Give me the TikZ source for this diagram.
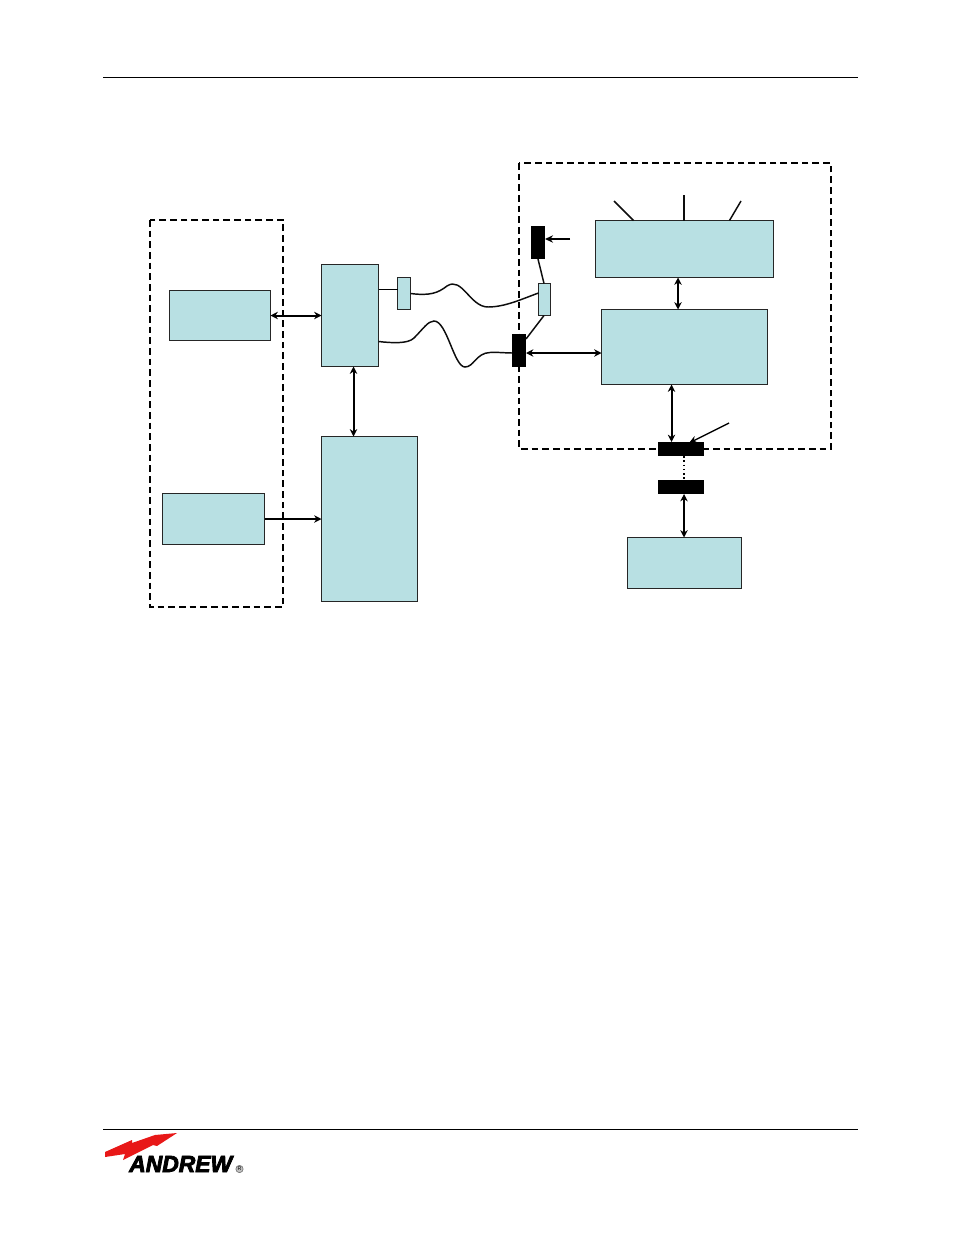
\documentclass[tikz,border=0pt]{standalone}
\usepackage{fontspec}
\setmainfont{Liberation Sans}
\newfontfamily\logofont{Liberation Sans}[UprightFont=* Bold Italic,UprightFeatures={FakeBold=3.5}]
\usetikzlibrary{arrows.meta}
\definecolor{boxblue}{HTML}{B8E0E3}
\definecolor{bolt}{HTML}{E81818}
\tikzset{
  x=0.75pt,y=-0.75pt,
  bluebox/.style={draw=black!85,line width=0.65pt,fill=boxblue,inner sep=0,outer sep=0,anchor=north west},
  blackbox/.style={draw=none,fill=black,inner sep=0,outer sep=0,anchor=north west},
  dashbox/.style={draw=black,line width=1pt,dash pattern=on 5pt off 3pt},
  rule/.style={line width=0.8pt},
  wire/.style={line width=1.1pt,black!95},
  link/.style={line width=1.5pt,{Stealth[length=5.5pt,width=5.5pt]}-{Stealth[length=5.5pt,width=5.5pt]}},
  oneway/.style={line width=1.4pt,-{Stealth[length=5.5pt,width=5.5pt]}},
  thinarrow/.style={line width=1pt,-{Stealth[length=6pt,width=5.5pt]}},
}
\newcommand{\bx}[7]{\node[#2,minimum width=#3*0.75pt,minimum height=#4*0.75pt] (#1) at (#5,#6) {#7};}
\begin{document}
\begin{tikzpicture}
\useasboundingbox (0,0) rectangle (954,1235);
\fill[white] (0,0) rectangle (954,1235);
% page rules
\coordinate (rt1) at (103,77.5); \coordinate (rt2) at (858,77.5);
\coordinate (rb1) at (103,1129.5); \coordinate (rb2) at (858,1129.5);
\draw[rule] (rt1) -- (rt2);
\draw[rule] (rb1) -- (rb2);
% dashed frames
\draw[dashbox] (150,220) rectangle (283,607);
\draw[dashbox] (519,163) rectangle (831,449);
% blue boxes
\bx{pc}{bluebox}{101}{50}{169.5}{290.5}{}
\bx{modem}{bluebox}{102}{51}{162.5}{493.5}{}
\bx{splitter}{bluebox}{57}{102}{321.5}{264.5}{}
\bx{unit}{bluebox}{96}{165}{321.5}{436.5}{}
\bx{smallL}{bluebox}{13}{32}{397.5}{277.5}{}
\bx{smallR}{bluebox}{12}{32}{538.5}{283.5}{}
\bx{top}{bluebox}{178}{57}{595.5}{220.5}{}
\bx{mid}{bluebox}{166}{75}{601.5}{309.5}{}
\bx{bottom}{bluebox}{114}{51}{627.5}{537.5}{}
% black connectors
\bx{conA}{blackbox}{14}{33}{531}{226}{}
\bx{conB}{blackbox}{14}{33}{512}{334}{}
\bx{conC}{blackbox}{46}{14}{658}{442}{}
\bx{conD}{blackbox}{46}{14}{658}{480}{}
% free ends
\coordinate (ant1) at (614,201);
\coordinate (ant2) at (684,195);
\coordinate (ant3) at (741,201);
\coordinate (tipA) at (570,239);
\coordinate (tipC) at (729,423);
% antennas
\draw[wire] (ant1) -- ([shift={(38,0)}]top.north west);
\draw[wire] (ant2) -- (ant2 |- top.north);
\draw[wire] (ant3) -- ([shift={(134,0)}]top.north west);
% arrows
\draw[link] (pc.east) -- (splitter.west);
\draw[oneway] (modem.east) -- (unit.west |- modem.east);
\draw[link] ([shift={(32,0)}]splitter.south west) -- ([shift={(32,0)}]unit.north west);
\draw[link] ([shift={(82.5,0)}]top.south west) -- ([shift={(76.5,0)}]mid.north west);
\draw[link] ([shift={(0,19)}]conB.north east) -- ([shift={(0,43.5)}]mid.north west);
\draw[link] ([shift={(70,0)}]mid.south west) -- ([shift={(13.5,0)}]conC.north west);
\draw[link] ([shift={(26,0)}]conD.south west) -- ([shift={(56.5,0)}]bottom.north west);
\draw[thinarrow,line width=1.3pt] (tipA) -- (tipA -| conA.east);
\draw[thinarrow] (tipC) -- ([shift={(31,1)}]conC.north west);
\draw[line width=1.2pt,dotted] ([shift={(26,0)}]conC.south west) -- ([shift={(26,0)}]conD.north west);
% wires
\draw[line width=1.4pt] ([shift={(0,25)}]splitter.north east) -- ([shift={(0,12)}]smallL.north west);
\draw[wire] ([shift={(0,16)}]smallL.north east) .. controls (430,296) and (438,293) .. (447,286)
  .. controls (462,276) and (470,307) .. (488,307)
  .. controls (505,307) and (522,299) .. ([shift={(0,9.5)}]smallR.north west);
\draw[wire] ([shift={(0,77)}]splitter.north east) .. controls (392,343) and (408,344) .. (414,338)
  .. controls (423,329) and (428,321) .. (434,321)
  .. controls (447,321) and (454,367) .. (465,367)
  .. controls (474,367) and (476,353) .. (490,352.5)
  .. controls (498,352) and (505,353) .. ([shift={(0,19)}]conB.north west);
\draw[wire] ([shift={(7,0)}]conA.south west) -- ([shift={(5.5,0)}]smallR.north west);
\draw[wire] ([shift={(5.5,0)}]smallR.south west) -- ([shift={(0,5)}]conB.north east);
% logo
\fill[bolt] (105,1152) -- (132,1140) -- (132,1143) -- (155,1135) -- (177,1133)
  -- (157,1146) -- (153,1145) -- (123,1160) -- (125,1154) -- (105,1157) -- cycle;
\node[inner sep=0,anchor=west,font=\logofont\fontsize{17.5pt}{18pt}\selectfont,xscale=0.98] (brand) at (129,1164) {ANDREW};
\node[draw=black!60,fill=black!25,circle,line width=0.4pt,minimum size=5.5pt,inner sep=0,font=\fontsize{4pt}{4pt}\selectfont] (reg) at (239.5,1169) {R};
\end{tikzpicture}
\end{document}
